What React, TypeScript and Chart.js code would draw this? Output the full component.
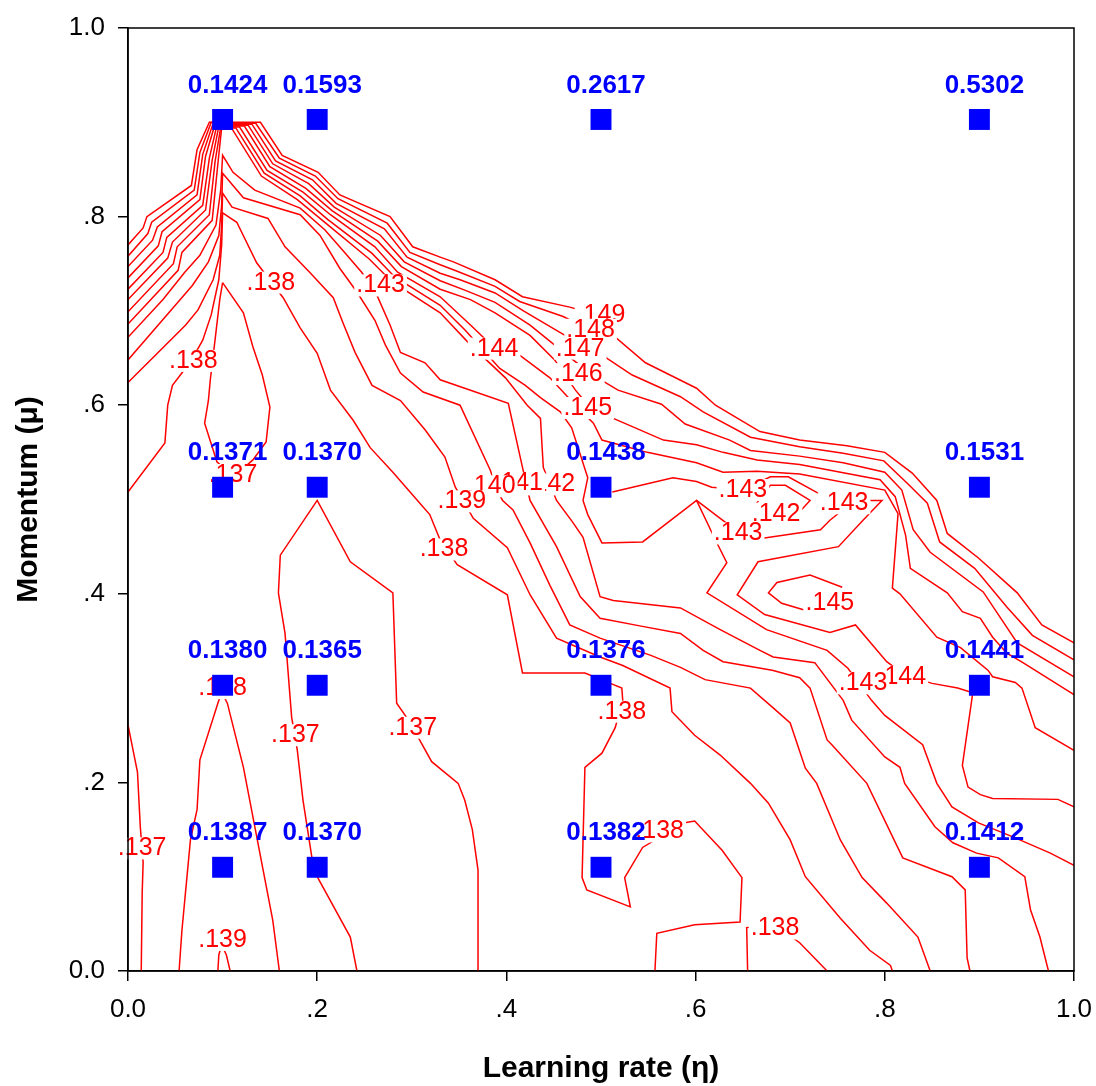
import React, { useEffect, useRef } from "react";
import { Chart, registerables } from "chart.js";

Chart.register(...registerables);

const FONT = "'Liberation Sans', Arial, Helvetica, sans-serif";

// Measured grid points (learning rate, momentum) and their error values
const learningRates = [0.1, 0.2, 0.5, 0.9];
const momentumRows = [0.903, 0.513, 0.303, 0.11];
const errorRow90 = [0.1424, 0.1593, 0.2617, 0.5302];
const errorRow50 = [0.1371, 0.137, 0.1438, 0.1531];
const errorRow30 = [0.138, 0.1365, 0.1376, 0.1441];
const errorRow10 = [0.1387, 0.137, 0.1382, 0.1412];

const xTickLabels = ["0.0", ".2", ".4", ".6", ".8", "1.0"];
const yTickLabels = ["0.0", ".2", ".4", ".6", ".8", "1.0"];

// Contour polylines [learning rate, momentum]
const contour149 = [[0,.770],[.016,.788],[.020,.800],[.067,.833],[.073,.871],[.086,.900],[.100,.900],[.140,.900],[.163,.865],[.201,.847],[.224,.823],[.277,.800],[.301,.768],[.330,.757],[.344,.752],[.388,.733],[.417,.715],[.467,.704],[.488,.698]];
const contour148 = [[0,.758],[.021,.782],[.025,.794],[.070,.828],[.076,.868],[.088,.900],[.100,.899],[.135,.899],[.160,.862],[.198,.843],[.222,.819],[.274,.793],[.298,.762],[.330,.749],[.348,.742],[.388,.726],[.414,.710],[.460,.694],[.488,.680],[.513,.674],[.547,.645],[.601,.618],[.621,.600],[.668,.572],[.710,.563],[.760,.557],[.800,.550],[.829,.528],[.855,.499],[.866,.464],[.899,.438],[.940,.401],[.966,.367],[1,.348]];
const contour147 = [[0,.747],[.026,.775],[.031,.789],[.073,.823],[.079,.866],[.090,.899],[.100,.898],[.131,.898],[.156,.859],[.195,.839],[.220,.814],[.271,.787],[.295,.757],[.330,.740],[.351,.733],[.388,.719],[.418,.700],[.457,.677],[.488,.659],[.506,.650],[.533,.632],[.584,.609],[.608,.593],[.658,.566],[.710,.556],[.756,.549],[.799,.541],[.824,.517],[.845,.496],[.858,.455],[.895,.427],[.929,.386],[.956,.356],[1,.330]];
const contour146 = [[0,.735],[.032,.769],[.036,.784],[.076,.818],[.082,.864],[.092,.898],[.100,.897],[.127,.897],[.153,.856],[.191,.835],[.218,.810],[.267,.780],[.292,.752],[.330,.732],[.356,.722],[.388,.709],[.425,.685],[.457,.659],[.488,.634],[.518,.616],[.564,.601],[.589,.580],[.636,.563],[.658,.552],[.710,.546],[.756,.539],[.800,.529],[.818,.510],[.830,.468],[.848,.444],[.904,.402],[.940,.348],[1,.312]];
const contour145 = [[0,.723],[.037,.762],[.041,.778],[.079,.812],[.086,.862],[.094,.897],[.100,.896],[.123,.896],[.150,.853],[.188,.830],[.216,.806],[.264,.774],[.289,.747],[.330,.723],[.362,.712],[.388,.698],[.425,.674],[.451,.648],[.473,.616],[.488,.598],[.513,.586],[.566,.563],[.601,.558],[.629,.550],[.665,.542],[.710,.537],[.795,.521],[.811,.503],[.822,.462],[.827,.427],[.866,.401],[.882,.381],[.901,.374],[.914,.354],[.929,.337],[.946,.327],[1,.293]];
const contour144 = [[0,.712],[.042,.756],[.047,.773],[.082,.807],[.089,.860],[.096,.896],[.100,.895],[.118,.895],[.147,.849],[.185,.826],[.214,.802],[.261,.768],[.285,.741],[.330,.715],[.362,.685],[.388,.660],[.414,.653],[.446,.629],[.473,.600],[.492,.581],[.501,.563],[.549,.550],[.601,.539],[.629,.529],[.665,.530],[.710,.527],[.800,.510],[.814,.485],[.808,.406],[.816,.400],[.855,.354],[.880,.343],[.909,.319],[.914,.312],[.938,.306],[.945,.300],[.959,.258],[1,.234]];
const contour143 = [[0,.699],[.048,.750],[.052,.768],[.086,.802],[.092,.858],[.098,.895],[.100,.894],[.114,.894],[.144,.846],[.182,.822],[.211,.797],[.258,.761],[.282,.736],[.330,.706],[.356,.680],[.393,.639],[.420,.621],[.436,.608],[.457,.593],[.469,.576],[.486,.523],[.481,.499],[.486,.484],[.501,.454],[.544,.455],[.601,.499],[.621,.457],[.633,.433],[.612,.401],[.675,.362],[.739,.340],[.761,.321],[.786,.287],[.800,.271],[.840,.240],[.855,.199],[.871,.174],[.899,.157],[.936,.142],[.975,.125],[1,.112]];
const contour142 = [[0,.686],[.053,.743],[.057,.762],[.089,.796],[.095,.856],[.099,.894],[.100,.893],[.110,.893],[.141,.843],[.179,.818],[.209,.793],[.255,.755],[.279,.731],[.330,.698],[.362,.664],[.399,.629],[.422,.600],[.436,.586],[.439,.534],[.453,.499],[.470,.476],[.481,.460],[.499,.397],[.513,.393],[.584,.385],[.626,.362],[.668,.340],[.682,.333],[.726,.327],[.756,.287],[.765,.266],[.800,.227],[.816,.216],[.821,.199],[.853,.153],[.872,.136],[.897,.125],[.920,.120],[.948,.100],[.954,.065],[.964,.036],[.973,0]];
const contour141 = [[0,.672],[.037,.712],[.060,.741],[.076,.759],[.093,.791],[.098,.828],[.100,.865],[.111,.847],[.134,.828],[.182,.809],[.208,.786],[.229,.762],[.247,.741],[.263,.717],[.277,.685],[.288,.656],[.314,.645],[.330,.627],[.402,.602],[.417,.534],[.425,.499],[.453,.450],[.478,.397],[.499,.374],[.541,.366],[.584,.358],[.608,.340],[.629,.328],[.681,.319],[.710,.311],[.721,.300],[.739,.245],[.744,.240],[.781,.199],[.819,.120],[.871,.100],[.885,.086],[.887,.014],[.890,0]];
const contour140 = [[0,.648],[.050,.706],[.068,.727],[.085,.752],[.096,.780],[.099,.812],[.100,.846],[.122,.820],[.182,.802],[.203,.780],[.224,.745],[.242,.720],[.261,.690],[.272,.664],[.288,.634],[.312,.614],[.351,.600],[.383,.531],[.390,.510],[.396,.499],[.407,.489],[.425,.454],[.446,.409],[.467,.367],[.499,.353],[.552,.335],[.584,.322],[.610,.309],[.658,.300],[.682,.279],[.700,.263],[.716,.215],[.728,.199],[.753,.139],[.776,.099],[.802,.072],[.835,.036],[.848,0]];
const contour139 = [[0,.624],[.061,.685],[.074,.701],[.090,.733],[.097,.759],[.099,.791],[.100,.825],[.110,.810],[.148,.798],[.166,.768],[.192,.741],[.217,.714],[.227,.688],[.240,.656],[.258,.621],[.288,.605],[.314,.574],[.335,.545],[.346,.513],[.365,.480],[.401,.449],[.425,.399],[.453,.353],[.499,.333],[.523,.324],[.573,.300],[.575,.275],[.599,.250],[.626,.229],[.658,.199],[.677,.178],[.700,.139],[.716,.100],[.753,.056],[.784,.022],[.806,.006],[.808,0]];
const contour138 = [[0,.508],[.039,.560],[.042,.600],[.047,.621],[.066,.646],[.079,.669],[.088,.696],[.096,.733],[.099,.770],[.100,.804],[.115,.794],[.136,.751],[.164,.714],[.182,.682],[.200,.655],[.214,.616],[.238,.584],[.256,.555],[.280,.529],[.306,.499],[.319,.484],[.330,.457],[.348,.431],[.401,.399],[.417,.316],[.483,.316],[.510,.305],[.522,.300],[.523,.287],[.515,.258],[.501,.231],[.483,.216],[.480,.099],[.485,.086],[.531,.068],[.525,.099],[.544,.131],[.587,.157],[.599,.159],[.628,.128],[.649,.099],[.647,.052],[.599,.049],[.559,.040],[.557,0]];
const loop137 = [[.100,.730],[.097,.712],[.092,.669],[.087,.627],[.085,.605],[.081,.581],[.094,.540],[.106,.529],[.122,.533],[.132,.542],[.146,.561],[.150,.598],[.142,.632],[.132,.662],[.122,.698],[.100,.730]];
const mid137 = [[.242,0],[.235,.036],[.200,.100],[.196,.110],[.185,.181],[.179,.234],[.173,.269],[.166,.358],[.159,.401],[.161,.441],[.200,.499],[.235,.434],[.280,.401],[.284,.284],[.298,.264],[.311,.240],[.321,.222],[.349,.199],[.356,.181],[.364,.150],[.370,.107],[.370,0]];
const left137 = [[0,.261],[.010,.211],[.013,.153],[.016,.115],[.015,.083],[.014,0]];
const vee138 = [[.054,0],[.057,.043],[.066,.139],[.073,.171],[.076,.224],[.095,.284],[.099,.296],[.105,.284],[.122,.216],[.153,.054],[.160,0]];
const bump139 = [[.095,0],[.096,.017],[.099,.028],[.104,.017],[.108,0]];
const bump138 = [[.655,0],[.654,.046],[.684,.049],[.710,.030],[.739,0]];
const seg143a = [[.512,.508],[.576,.523],[.601,.519],[.617,.513],[.650,.510],[.679,.524],[.698,.524],[.729,.507],[.747,.499]];
const seg143b = [[.601,.499],[.626,.480],[.647,.464],[.671,.459],[.732,.468],[.742,.478],[.758,.491]];
const seg142 = [[.663,.494],[.679,.515],[.695,.515],[.721,.499],[.710,.487]];
const line144 = [[.782,.499],[.797,.499],[.777,.478],[.751,.450],[.666,.434],[.644,.399],[.673,.378],[.742,.359],[.769,.367],[.802,.328],[.821,.314],[.850,.305],[.877,.300],[.893,.295],[.882,.218],[.888,.195],[.901,.187],[.914,.183],[.983,.182],[1,.174]];
const loop145 = [[.714,.383],[.691,.390],[.677,.401],[.686,.412],[.721,.420],[.755,.407]];

const contourLines = [
  contour149, contour148, contour147, contour146, contour145, contour144,
  contour143, contour142, contour141, contour140, contour139, contour138,
  loop137, mid137, left137, vee138, bump139, bump138,
  seg143a, seg143b, seg142, line144, loop145,
];

// Contour labels: text, learning rate, momentum
const contourLabels: [string, number, number][] = [
  [".149", .500, .696],
  [".148", .489, .680],
  [".147", .478, .660],
  [".146", .476, .633],
  [".145", .486, .597],
  [".144", .387, .660],
  [".143", .267, .727],
  [".138", .151, .730],
  [".138", .069, .647],
  [".142", .447, .516],
  [".141", .413, .517],
  [".140", .384, .514],
  [".139", .353, .498],
  [".138", .334, .447],
  [".142", .685, .485],
  [".143", .650, .510],
  [".143", .645, .464],
  [".143", .757, .496],
  [".145", .742, .390],
  [".144", .818, .312],
  [".143", .777, .305],
  [".138", .522, .275],
  [".138", .562, .148],
  [".138", .684, .045],
  [".137", .301, .258],
  [".137", .177, .250],
  [".137", .015, .130],
  [".139", .100, .033],
  [".137", .111, .526],
  [".138", .100, .300],
];

const overlayPlugin = {
  id: "overlay",
  afterDatasetDraw(chart: any, args: any) {
    if (args.index !== 1) return;
    const { ctx } = chart;
    const xs = chart.scales.x;
    const ys = chart.scales.y;
    ctx.save();
    ctx.font = `25px ${FONT}`;
    ctx.textAlign = "center";
    ctx.textBaseline = "middle";
    for (const [t, vx, vy] of contourLabels) {
      const px = xs.getPixelForValue(vx);
      const py = ys.getPixelForValue(vy);
      const w = ctx.measureText(t).width;
      ctx.fillStyle = "#ffffff";
      ctx.fillRect(px - w / 2 - 2, py - 11, w + 4, 22);
      ctx.fillStyle = "#ff0000";
      ctx.fillText(t, px, py);
    }
    ctx.restore();
  },
  afterDatasetsDraw(chart: any) {
    const { ctx, chartArea } = chart;
    const xs = chart.scales.x;
    const ys = chart.scales.y;
    const rows = [errorRow90, errorRow50, errorRow30, errorRow10];
    ctx.save();
    ctx.font = `bold 26px ${FONT}`;
    ctx.textAlign = "center";
    ctx.textBaseline = "middle";
    ctx.fillStyle = "#0000ff";
    rows.forEach((row, r) => {
      row.forEach((v, c) => {
        const px = xs.getPixelForValue(learningRates[c]);
        const py = ys.getPixelForValue(momentumRows[r]);
        ctx.fillText(v.toFixed(4), px + 5, py - 34);
      });
    });
    ctx.strokeStyle = "#000000";
    ctx.lineWidth = 1.5;
    ctx.strokeRect(chartArea.left, chartArea.top, chartArea.right - chartArea.left, chartArea.bottom - chartArea.top);
    ctx.restore();
  },
};

export default function App() {
  const ref = useRef<HTMLCanvasElement>(null);

  useEffect(() => {
    const canvas = ref.current;
    if (!canvas) return;
    const rows = [errorRow90, errorRow50, errorRow30, errorRow10];
    const markerData: any[] = [];
    rows.forEach((row, r) =>
      row.forEach((v, c) => markerData.push({ x: learningRates[c], y: momentumRows[r], v }))
    );
    const lineSets = contourLines.map((pts) => ({
      data: pts.map(([x, y]) => ({ x, y })),
      showLine: true,
      borderColor: "#ff0000",
      borderWidth: 1.5,
      pointRadius: 0,
      pointHoverRadius: 0,
      fill: false,
      tension: 0,
    }));
    const chart = new Chart(canvas, {
      type: "scatter",
      data: {
        datasets: [
          {
            data: markerData,
            pointStyle: "rect",
            pointRadius: 14.8,
            pointHoverRadius: 14.8,
            backgroundColor: "#0000ff",
            borderColor: "#0000ff",
            borderWidth: 0,
            showLine: false,
          } as any,
          ...(lineSets as any[]),
        ],
      },
      options: {
        responsive: false,
        animation: false,
        devicePixelRatio: 1,
        events: [],
        layout: { padding: { left: 0, top: 28, right: 22, bottom: 0 } },
        plugins: { legend: { display: false }, tooltip: { enabled: false } },
        scales: {
          x: {
            type: "linear",
            position: "bottom",
            min: 0,
            max: 1,
            afterFit: (s: any) => {
              s.height = 115;
              s.paddingLeft = 0;
              s.paddingRight = 0;
            },
            ticks: {
              stepSize: 0.2,
              autoSkip: false,
              maxRotation: 0,
              padding: 13,
              color: "#000",
              font: { size: 26, family: FONT },
              callback: (v: any) => xTickLabels[Math.round(Number(v) / 0.2)],
            },
            grid: { drawOnChartArea: false, drawTicks: true, tickLength: 10, color: "#000", lineWidth: 1.5 },
            border: { display: true, color: "#000", width: 1.5 },
            title: {
              display: true,
              text: "Learning rate (η)",
              color: "#000",
              font: { size: 30, weight: "bold", family: FONT, lineHeight: 1 },
              padding: { top: 0, bottom: 2 },
            },
          },
          y: {
            type: "linear",
            position: "left",
            min: 0,
            max: 1,
            afterFit: (s: any) => {
              s.width = 128;
              s.paddingTop = 0;
              s.paddingBottom = 0;
            },
            ticks: {
              stepSize: 0.2,
              autoSkip: false,
              padding: 13,
              color: "#000",
              font: { size: 26, family: FONT },
              callback: (v: any) => yTickLabels[Math.round(Number(v) / 0.2)],
            },
            grid: { drawOnChartArea: false, drawTicks: true, tickLength: 10, color: "#000", lineWidth: 1.5 },
            border: { display: true, color: "#000", width: 1.5 },
            title: {
              display: true,
              text: "Momentum (μ)",
              color: "#000",
              font: { size: 30, weight: "bold", family: FONT, lineHeight: 1 },
              padding: { top: 14, bottom: 0 },
            },
          },
        },
      } as any,
      plugins: [overlayPlugin],
    });
    return () => chart.destroy();
  }, []);

  return (
    <div style={{ position: "fixed", left: 0, top: 0, width: 1096, height: 1086, background: "#fff" }}>
      <canvas ref={ref} width={1096} height={1086} style={{ display: "block" }} />
    </div>
  );
}
